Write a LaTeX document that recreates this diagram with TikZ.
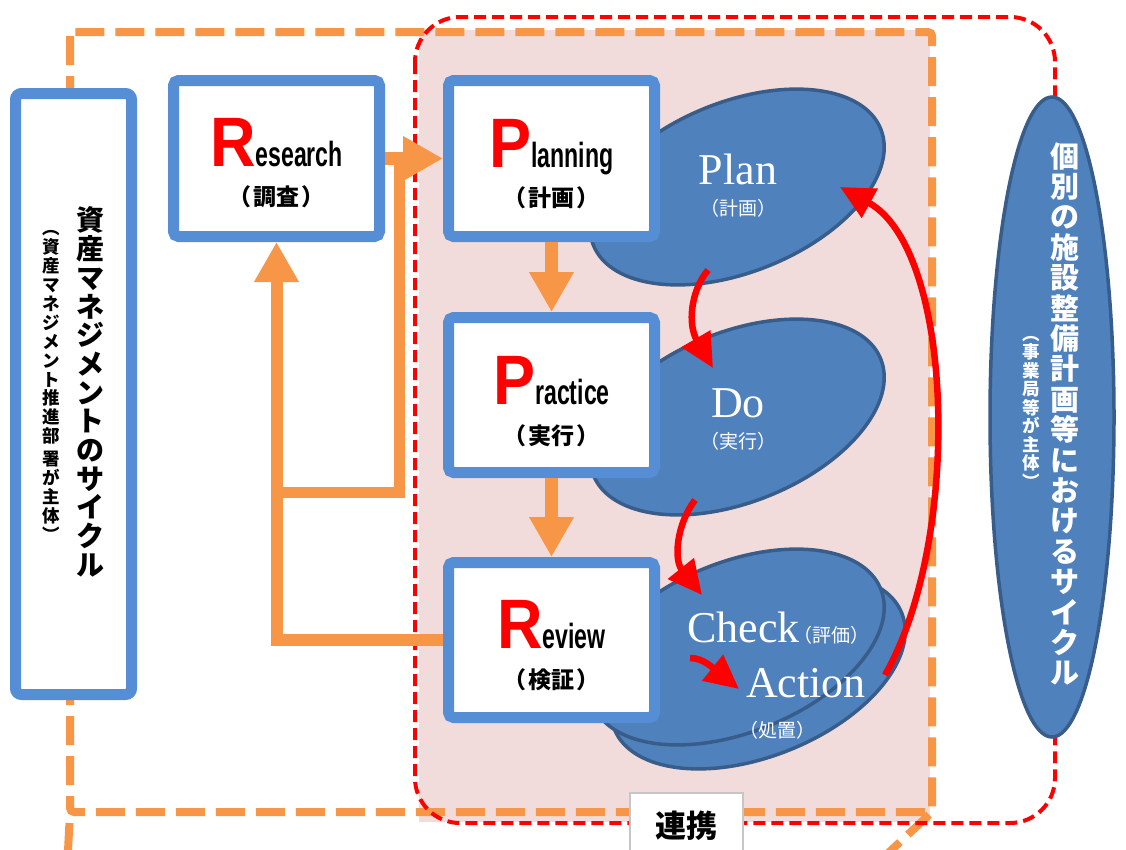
\documentclass[tikz,border=0pt]{standalone}
\usepackage{fontspec}
\usetikzlibrary{arrows.meta,shapes.geometric,calc}

\newfontfamily\jpfont{Noto Sans CJK JP}
\newfontfamily\latinnarrow[FakeStretch=0.66]{Liberation Sans}
\newfontfamily\latinbig[FakeStretch=0.9]{Liberation Sans}
\newfontfamily\serifw{Liberation Serif}

\definecolor{boxblue}{HTML}{558ED5}
\definecolor{ellfill}{HTML}{4F81BD}
\definecolor{elldraw}{HTML}{385D8A}
\definecolor{orangeA}{HTML}{F79646}
\definecolor{pinkbg}{HTML}{F2DCDB}
\definecolor{redA}{HTML}{FF0000}

% big red initial followed by the narrow rest of the word
\newcommand{\boxtitle}[2]{{\latinbig\bfseries\fontsize{70}{70}\selectfont\textcolor{redA}{#1}}{\latinnarrow\bfseries\fontsize{35}{35}\selectfont #2}}
% parentheses around a short Japanese word, with adjustable room
\newcommand{\jparen}[2][0.6em]{\makebox[#1][c]{（}#2\makebox[#1][c]{）}}
\newcommand{\boxsub}[1]{{\jpfont\bfseries\fontsize{23}{23}\selectfont\jparen[1.15em]{#1}}}

\begin{document}
\begin{tikzpicture}[x=1pt,y=-1pt,
  pdbox/.style={draw=boxblue, line width=11pt, fill=white, rounded corners=5pt,
    minimum width=206pt, minimum height=156pt, inner sep=0pt},
  ell/.style={ellipse, draw=elldraw, fill=ellfill, line width=3.5pt, inner sep=0pt},
  pdca/.style={ell, rotate=22, minimum width=310pt, minimum height=170pt},
  odash/.style={draw=orangeA, line width=8pt, dash pattern=on 29pt off 11pt},
  reddash/.style={draw=redA, line width=4pt, dash pattern=on 12pt off 6pt},
  oarrow/.style={draw=orangeA, line width=13pt, -{Triangle[length=40pt,width=42pt]}},
  oline/.style={draw=orangeA, line width=11pt},
  rarrow/.style={draw=redA, line width=6.5pt, -{Triangle[length=34pt,width=32pt]}},
  eword/.style={text=white, font=\serifw\fontsize{44}{44}\selectfont, inner sep=0pt},
  esub/.style={text=white, font=\jpfont\fontsize{19}{19}\selectfont, inner sep=0pt},
  vtitle/.style={align=center, inner sep=0pt, font=\jpfont\bfseries\fontsize{28}{28.7}\selectfont},
  vsub/.style={align=center, inner sep=0pt, font=\jpfont\bfseries\fontsize{17.5}{18.9}\selectfont}]

\useasboundingbox (0,0) rectangle (1126,849);

% shared area of both cycles
\fill[pinkbg] (419,30) rectangle (930,822);

% frame of the asset management cycle
\draw[odash, rounded corners=4pt] (70,32) rectangle (932,812);
\coordinate (oL) at (70,812);
\coordinate (oLe) at (67,870);
\coordinate (oR) at (932,812);
\coordinate (oRe) at (868,872);
\draw[odash, dash phase=29pt] (oL) -- (oLe);
\draw[odash, dash phase=36pt] (oR) -- (oRe);

% frame of the facility cycle
\draw[reddash, rounded corners=45pt] (415,17) rectangle (1055,823);

% left column
\node[pdbox, rounded corners=6pt, minimum width=116pt, minimum height=601pt] (amc) at (73.5,394) {};
\node[vtitle] (amct) at (90,392) {資\\産\\マ\\ネ\\ジ\\メ\\ン\\ト\\の\\サ\\イ\\ク\\ル};
\node[vsub] (amcs) at (51,386) {︵\\資\\産\\マ\\ネ\\ジ\\メ\\ン\\ト\\推\\進\\部\\[4pt]署\\が\\主\\体\\︶};

% right column
\node[ell, minimum width=124pt, minimum height=640pt] (fac) at (1052,417) {};
\node[vtitle, text=white, font=\jpfont\bfseries\fontsize{29}{30.4}\selectfont] (fact) at (1065,414)
  {個\\別\\の\\施\\設\\整\\備\\計\\画\\等\\に\\お\\け\\る\\サ\\イ\\ク\\ル};
\node[vsub, text=white, font=\jpfont\bfseries\fontsize{17.5}{18.5}\selectfont] (facs) at (1031,412)
  {︵\\事\\業\\局\\等\\が\\主\\体\\︶};

% PDCA ellipses
\node[pdca] (ePlan) at (737,187) {};
\node[pdca] (eDo) at (737,417) {};
\node[pdca] (eAct) at (758,671) {};
\node[pdca] (eChk) at (737,647) {};

% R-P-P-R boxes
\node[pdbox] (res) at (276.5,158.5) {};
\node[pdbox] (pln) at (551.5,158.5) {};
\node[pdbox, minimum height=155pt] (prc) at (551.5,395) {};
\node[pdbox, minimum height=155pt] (rev) at (551.5,640) {};

% orange flow
\coordinate (brA) at ($(res.south)+(0,250)$);
\coordinate (brB) at ($(res.east)+(14,0)$);
\draw[oline] (brA) -| (brB);
\draw[oarrow] (res.east) -- (pln.west);
\draw[oarrow] (pln.south) -- (prc.north);
\draw[oarrow] (prc.south) -- (rev.north);
\draw[oarrow, line width=12pt] (rev.west) -| (res.south);

% box texts
\node[anchor=base, inner sep=0pt] (resT) at (276.5,166) {\boxtitle{R}{esearch}};
\node[inner sep=0pt] (resS) at (276.5,197) {\boxsub{調査}};
\node[anchor=base, inner sep=0pt] (plnT) at (551.5,167) {\boxtitle{P}{lanning}};
\node[inner sep=0pt] (plnS) at (551.5,198) {\boxsub{計画}};
\node[anchor=base, inner sep=0pt] (prcT) at (551.5,404) {\boxtitle{P}{ractice}};
\node[inner sep=0pt] (prcS) at (551.5,436) {\boxsub{実行}};
\node[anchor=base, inner sep=0pt] (revT) at (551.5,648) {\boxtitle{R}{eview}};
\node[inner sep=0pt] (revS) at (551.5,680) {\boxsub{検証}};

% ellipse texts
\node[eword, anchor=base] (tPlan) at (738,184) {Plan};
\node[esub] (sPlan) at (738,208) {（計画）};
\node[eword, anchor=base] (tDo) at (738,417) {Do};
\node[esub] (sDo) at (738,441) {（実行）};
\node[eword, anchor=base west] (tChk) at (687,642)
  {Check{\jpfont\fontsize{19}{19}\selectfont\makebox[0.7em][r]{（}評価）}};
\node[eword, anchor=base west] (tAct) at (746,697) {Action};
\node[esub] (sAct) at (777,730) {（処置）};

% red cycle arrows
\coordinate (pd0) at (708,270);
\coordinate (pd1) at (713,368);
\coordinate (dc0) at (695,500);
\coordinate (dc1) at (702,595);
\coordinate (ca0) at (690,658);
\coordinate (ca1) at (739,689);
\coordinate (ap0) at (885,675);
\coordinate (ap1) at (840,187);
\draw[rarrow] (pd0) .. controls (690,292) and (688,325) .. (pd1);
\draw[rarrow] (dc0) .. controls (676,525) and (674,560) .. (dc1);
\draw[rarrow] (ca0) .. controls (703,658) and (713,668) .. (ca1);
\draw[rarrow] (ap0) .. controls (962,540) and (955,250) .. (ap1);

% link label
\node[draw=gray!45, line width=1.5pt, fill=white, minimum width=113pt, minimum height=66pt,
  anchor=north, inner sep=0pt, font=\jpfont\bfseries\fontsize{31}{31}\selectfont] (renkei) at (686.5,792) {連携};
\end{tikzpicture}
\end{document}
